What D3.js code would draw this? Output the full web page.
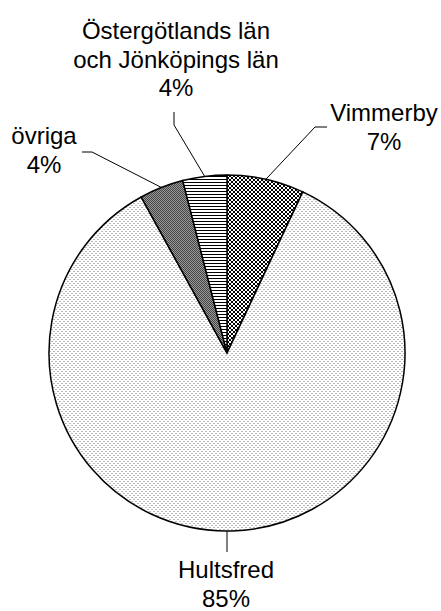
<!DOCTYPE html>
<html>
<head>
<meta charset="utf-8">
<script src="https://cdn.jsdelivr.net/npm/d3@7"></script>
<style>
  html, body { margin: 0; padding: 0; background: #fff; }
  svg { display: block; }
  text { font-family: "Liberation Sans", Arial, sans-serif; font-size: 24px; fill: #000; }
</style>
</head>
<body>
<svg id="chart" width="441" height="611"></svg>
<script>
// Slices, clockwise from 12 o'clock
const categories = ["Vimmerby", "Hultsfred", "övriga", "Östergötlands län\noch Jönköpings län"];
const values = [7, 85, 4, 4];
const fills = ["url(#checker)", "url(#dots)", "url(#darkgray)", "url(#hlines)"];

// Label anchor, line baselines and leader elbow for each slice
const labelLayout = [
  { x: 384, y: 121, elbow: [315, 127], end: [327, 127] },
  { x: 226, y: 578, elbow: null, end: [227, 552] },
  { x: 44,  y: 144, elbow: [92, 152], end: [82, 152] },
  { x: 176, y: 39,  elbow: [174, 125], end: [174, 112] }
];

const svg = d3.select("#chart");
const cx = 227, cy = 353, r = 178;
const lineH = 28.5;

// Fill patterns
const defs = svg.append("defs");
const checker = defs.append("pattern").attr("id", "checker")
  .attr("patternUnits", "userSpaceOnUse").attr("width", 4).attr("height", 4);
checker.append("rect").attr("width", 4).attr("height", 4).attr("fill", "#fff");
checker.append("rect").attr("x", 0).attr("y", 0).attr("width", 2).attr("height", 2).attr("fill", "#000");
checker.append("rect").attr("x", 2).attr("y", 2).attr("width", 2).attr("height", 2).attr("fill", "#000");

const dots = defs.append("pattern").attr("id", "dots")
  .attr("patternUnits", "userSpaceOnUse").attr("width", 4).attr("height", 4);
dots.append("rect").attr("width", 4).attr("height", 4).attr("fill", "#fff");
dots.append("rect").attr("x", 0).attr("y", 0).attr("width", 2).attr("height", 1).attr("fill", "#b8b8b8");
dots.append("rect").attr("x", 2).attr("y", 2).attr("width", 2).attr("height", 1).attr("fill", "#b8b8b8");

const dark = defs.append("pattern").attr("id", "darkgray")
  .attr("patternUnits", "userSpaceOnUse").attr("width", 2).attr("height", 2);
dark.append("rect").attr("width", 2).attr("height", 2).attr("fill", "#9a9a9a");
dark.append("rect").attr("x", 0).attr("y", 0).attr("width", 1).attr("height", 1).attr("fill", "#444");
dark.append("rect").attr("x", 1).attr("y", 1).attr("width", 1).attr("height", 1).attr("fill", "#444");

const hl = defs.append("pattern").attr("id", "hlines")
  .attr("patternUnits", "userSpaceOnUse").attr("width", 4).attr("height", 3);
hl.append("rect").attr("width", 4).attr("height", 3).attr("fill", "#fff");
hl.append("rect").attr("x", 0).attr("y", 0).attr("width", 4).attr("height", 1).attr("fill", "#000");

const pie = d3.pie().sort(null).value(d => d)(values);
const arc = d3.arc().innerRadius(0).outerRadius(r);

const g = svg.append("g").attr("transform", `translate(${cx},${cy})`);
g.selectAll("path.slice").data(pie).join("path")
  .attr("class", "slice")
  .attr("d", arc)
  .attr("fill", (d, i) => fills[i])
  .attr("stroke", "#000")
  .attr("stroke-width", 1.5)
  .attr("stroke-linejoin", "miter");

// Leader lines from the slice's outer edge to its label
pie.forEach((d, i) => {
  const L = labelLayout[i];
  const mid = (d.startAngle + d.endAngle) / 2;
  const start = [cx + r * Math.sin(mid), cy - r * Math.cos(mid)];
  const pts = [start];
  if (L.elbow) pts.push(L.elbow);
  else pts[0] = [L.end[0], cy + r];
  pts.push(L.end);
  svg.append("path")
    .attr("d", d3.line()(pts))
    .attr("fill", "none")
    .attr("stroke", "#000")
    .attr("stroke-width", 1);
});

// Labels: category name lines followed by the percentage
pie.forEach((d, i) => {
  const L = labelLayout[i];
  const lines = categories[i].split("\n").concat([d3.format(".0f")(values[i]) + "%"]);
  const t = svg.append("text").attr("text-anchor", "middle");
  lines.forEach((s, k) => {
    t.append("tspan").attr("x", L.x).attr("y", L.y + k * lineH).text(s);
  });
});
</script>
</body>
</html>
